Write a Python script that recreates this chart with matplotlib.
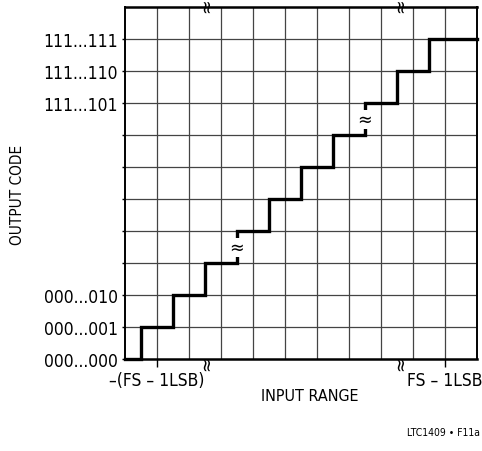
import matplotlib
matplotlib.use("Agg")
import matplotlib.pyplot as plt
import numpy as np

# ---- data ----
n_cells = 11                                   # grid cells per side
transitions = [0.5, 1.5, 2.5, 3.5, 4.5, 5.5, 6.5, 7.5, 8.5, 9.5]   # input (LSB) where code steps
codes = [0, 1, 2, 3, 4, 5, 6, 7, 8, 9, 10]       # output code levels
ytick_pos = [0, 1, 2, 3, 4, 5, 6, 7, 8, 9, 10]
ytick_labels = ["000...000", "000...001", "000...010", "", "", "", "", "",
                "111...101", "111...110", "111...111"]
xtick_pos = [1, 10]
xtick_labels = ["\u2013(FS \u2013 1LSB)", "FS \u2013 1LSB"]
break_steps = [3.5, 7.5]             # rises carrying a break mark
axis_breaks_x = [2.55, 8.6]          # break marks on top/bottom border

plt.rcParams["font.family"] = ["DejaVu Sans"]
plt.rcParams["font.stretch"] = "condensed"

fig = plt.figure(figsize=(4.82, 4.52), dpi=100)
ax = fig.add_axes([125/482, 1 - 360/452, 352/482, 352/452])
ax.set_xlim(0, n_cells)
ax.set_ylim(0, n_cells)

# grid
for v in range(1, n_cells):
    ax.axvline(v, color="#444444", lw=0.9, zorder=1)
    ax.axhline(v, color="#444444", lw=0.9, zorder=1)

for s in ax.spines.values():
    s.set_linewidth(1.4)
    s.set_color("black")
ax.spines["top"].set_linewidth(1.8)
ax.spines["bottom"].set_linewidth(1.8)

# staircase
xs = [0] + transitions + [n_cells]
ys = codes + [codes[-1]]
ax.step(xs, ys, where="post", color="black", lw=2.4, zorder=3,
        solid_joinstyle="miter", clip_on=False)

# break marks on staircase
for bx in break_steps:
    ax.text(bx, bx, "\u2248", ha="center", va="center", fontsize=14,
            zorder=4,
            bbox=dict(boxstyle="square,pad=0.0", fc="white", ec="none"))

# break marks on top/bottom border
for bx in axis_breaks_x:
    ax.text(bx, n_cells + 0.06, "\u2248", ha="center", va="center", fontsize=14,
            rotation=90, zorder=5, clip_on=False)
    ax.text(bx, -0.12, "\u2248", ha="center", va="center", fontsize=14,
            rotation=90, zorder=5, clip_on=False)

# ticks
ax.set_yticks(ytick_pos)
ax.set_yticklabels(ytick_labels, fontsize=12.5)
ax.tick_params(axis="y", direction="out", length=2.2, width=1, pad=3)
ax.set_xticks(xtick_pos)
ax.set_xticklabels(xtick_labels, fontsize=12.5)
ax.tick_params(axis="x", direction="out", length=6, width=1, pad=3)

fig.text(18/482, 1 - 195/452, "OUTPUT CODE", rotation=90, ha="center",
         va="center", fontsize=11)
fig.text(310/482, 1 - 397/452, "INPUT RANGE", ha="center", va="center",
         fontsize=11.5)
fig.text(480/482, 1 - 433/452, "LTC1409 \u2022 F11a", ha="right",
         va="center", fontsize=7.5)

fig.savefig("out.png", dpi=100)
